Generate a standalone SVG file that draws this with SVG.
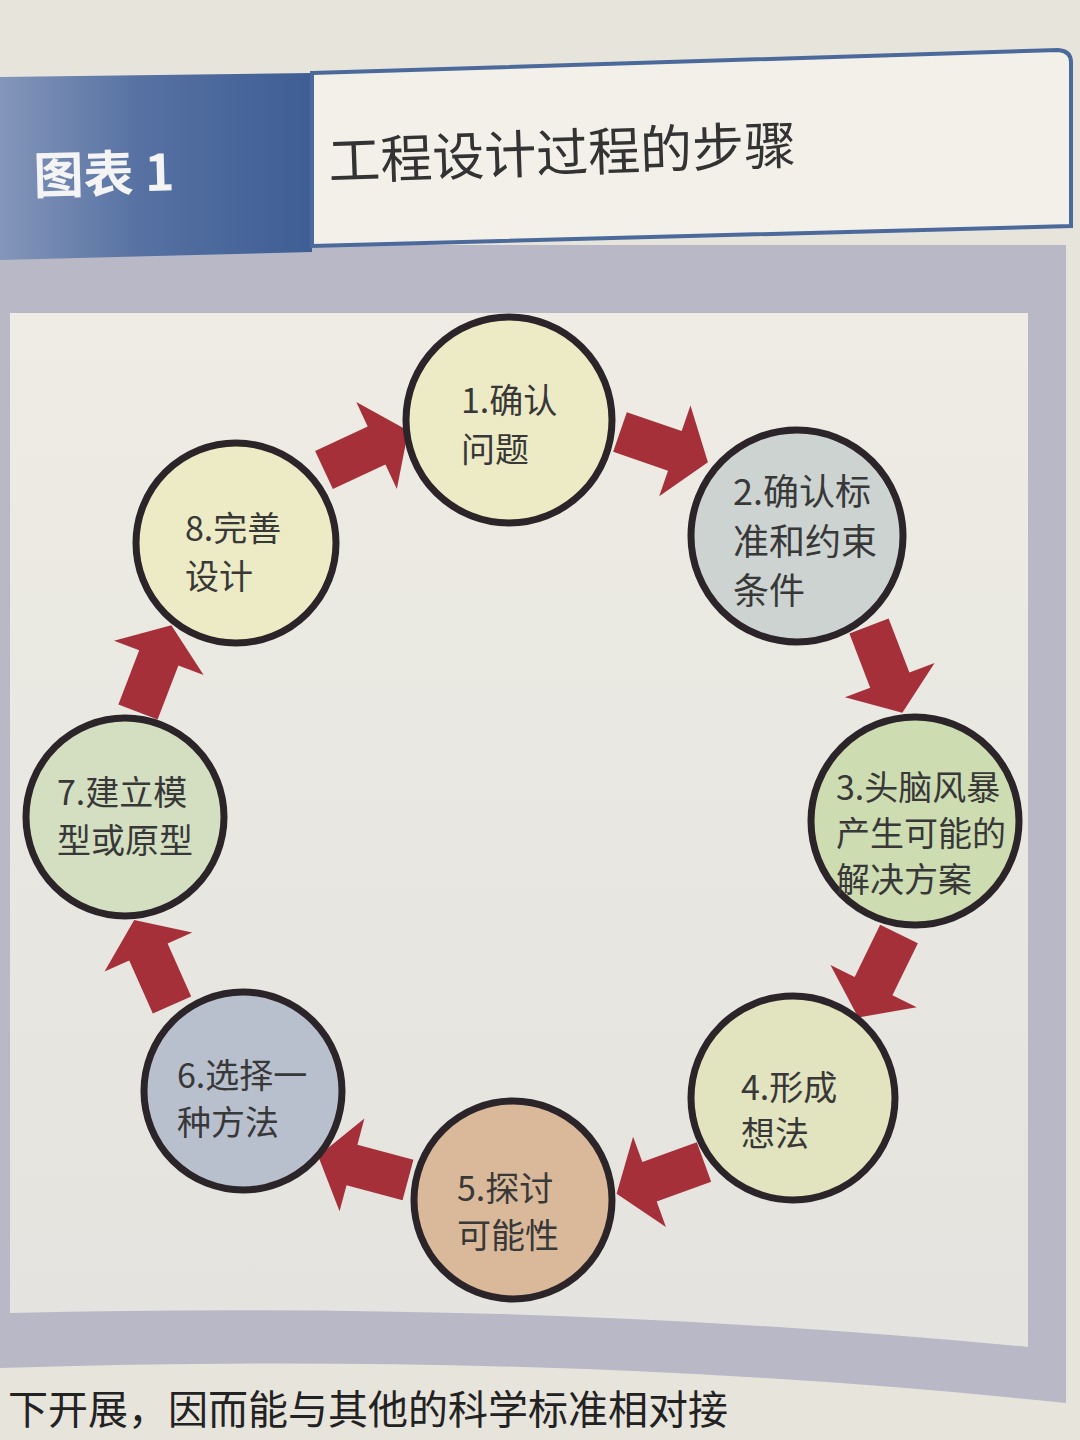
<svg xmlns="http://www.w3.org/2000/svg" width="1080" height="1440" viewBox="0 0 1080 1440">
<defs>
<linearGradient id="blueg" x1="0" y1="0" x2="1" y2="0">
<stop offset="0" stop-color="#8496ba"/>
<stop offset="0.45" stop-color="#5671a2"/>
<stop offset="1" stop-color="#3f5e95"/>
</linearGradient>
<linearGradient id="creamg" x1="0" y1="0" x2="0" y2="1">
<stop offset="0" stop-color="#eeece4"/>
<stop offset="0.5" stop-color="#e8e7e1"/>
<stop offset="1" stop-color="#e4e3df"/>
</linearGradient>
<path id="arw" d="M0,-21 H58 V-48 L93,0 L58,48 V21 H0 Z"/>
</defs>
<style>
.node circle{stroke:#2b2428;stroke-width:7}
.lbl{font-family:"Noto Sans CJK SC","Noto Sans",sans-serif;font-size:34px;fill:#383838}
.arrow{fill:#a6303a}
</style>
<rect width="1080" height="1440" fill="#e7e4dc"/>
<!-- frame -->
<path d="M0,245 H1066 V1403 Q560,1350 0,1368 Z" fill="#b8b8c7"/>
<path d="M10,313 H1028 V1347 Q540,1300 10,1313 Z" fill="url(#creamg)"/>
<!-- header -->
<g id="header">
<path d="M0,77 L312,73 L312,252 L0,260 Z" fill="url(#blueg)"/>
<path d="M312,73 L1058,50 Q1071,51 1071,62 L1071,226 L312,246 Z" fill="#f2f0e9" stroke="#4c699b" stroke-width="4"/>
<text x="34" y="194" transform="rotate(-1.5 34 194)" font-family="'Noto Sans CJK SC','Noto Sans',sans-serif" font-size="50" font-weight="bold" fill="#f4f4f4">图表 1</text>
<text x="329" y="180" transform="rotate(-2 329 180)" font-family="'Noto Sans CJK SC','Noto Sans',sans-serif" font-size="52" fill="#333">工程设计过程的步骤</text>
</g>
<!-- connectors -->
<g id="connectors" class="arrow">
<use href="#arw" transform="translate(620,432) rotate(19)"/>
<use href="#arw" transform="translate(869,626) rotate(69)"/>
<use href="#arw" transform="translate(899,934) rotate(116)"/>
<use href="#arw" transform="translate(704,1162) rotate(160)"/>
<use href="#arw" transform="translate(408,1180) rotate(195)"/>
<use href="#arw" transform="translate(172,1005) rotate(246)"/>
<use href="#arw" transform="translate(138,712) rotate(291)"/>
<use href="#arw" transform="translate(324,470) rotate(335)"/>
</g>
<!-- nodes -->
<g id="node1" class="node">
<circle cx="509" cy="420" r="103" fill="#ecebc5"/>
<text class="lbl" x="461" y="413">1.确认</text>
<text class="lbl" x="461" y="462">问题</text>
</g>
<g id="node2" class="node">
<circle cx="797" cy="536" r="106" fill="#ccd3d1"/>
<text class="lbl" x="733" y="505" style="font-size:36px">2.确认标</text>
<text class="lbl" x="733" y="555" style="font-size:36px">准和约束</text>
<text class="lbl" x="733" y="604" style="font-size:36px">条件</text>
</g>
<g id="node3" class="node">
<circle cx="915" cy="821" r="104" fill="#cedcb2"/>
<text class="lbl" x="836" y="800">3.头脑风暴</text>
<text class="lbl" x="836" y="846">产生可能的</text>
<text class="lbl" x="836" y="892">解决方案</text>
</g>
<g id="node4" class="node">
<circle cx="793" cy="1098" r="102" fill="#e2e3bf"/>
<text class="lbl" x="741" y="1100">4.形成</text>
<text class="lbl" x="741" y="1146">想法</text>
</g>
<g id="node5" class="node">
<circle cx="513" cy="1200" r="99" fill="#dab99b"/>
<text class="lbl" x="457" y="1201">5.探讨</text>
<text class="lbl" x="457" y="1248">可能性</text>
</g>
<g id="node6" class="node">
<circle cx="243" cy="1091" r="99" fill="#b9c0cd"/>
<text class="lbl" x="177" y="1088">6.选择一</text>
<text class="lbl" x="177" y="1135">种方法</text>
</g>
<g id="node7" class="node">
<circle cx="125" cy="817" r="99" fill="#d4dfc1"/>
<text class="lbl" x="57" y="805">7.建立模</text>
<text class="lbl" x="57" y="853">型或原型</text>
</g>
<g id="node8" class="node">
<circle cx="236" cy="543" r="100" fill="#ecebc5"/>
<text class="lbl" x="185" y="541">8.完善</text>
<text class="lbl" x="185" y="589">设计</text>
</g>
<text x="8" y="1424" font-family="'Noto Sans CJK SC','Noto Sans',sans-serif" font-size="40" fill="#222">下开展，因而能与其他的科学标准相对接</text>
</svg>
